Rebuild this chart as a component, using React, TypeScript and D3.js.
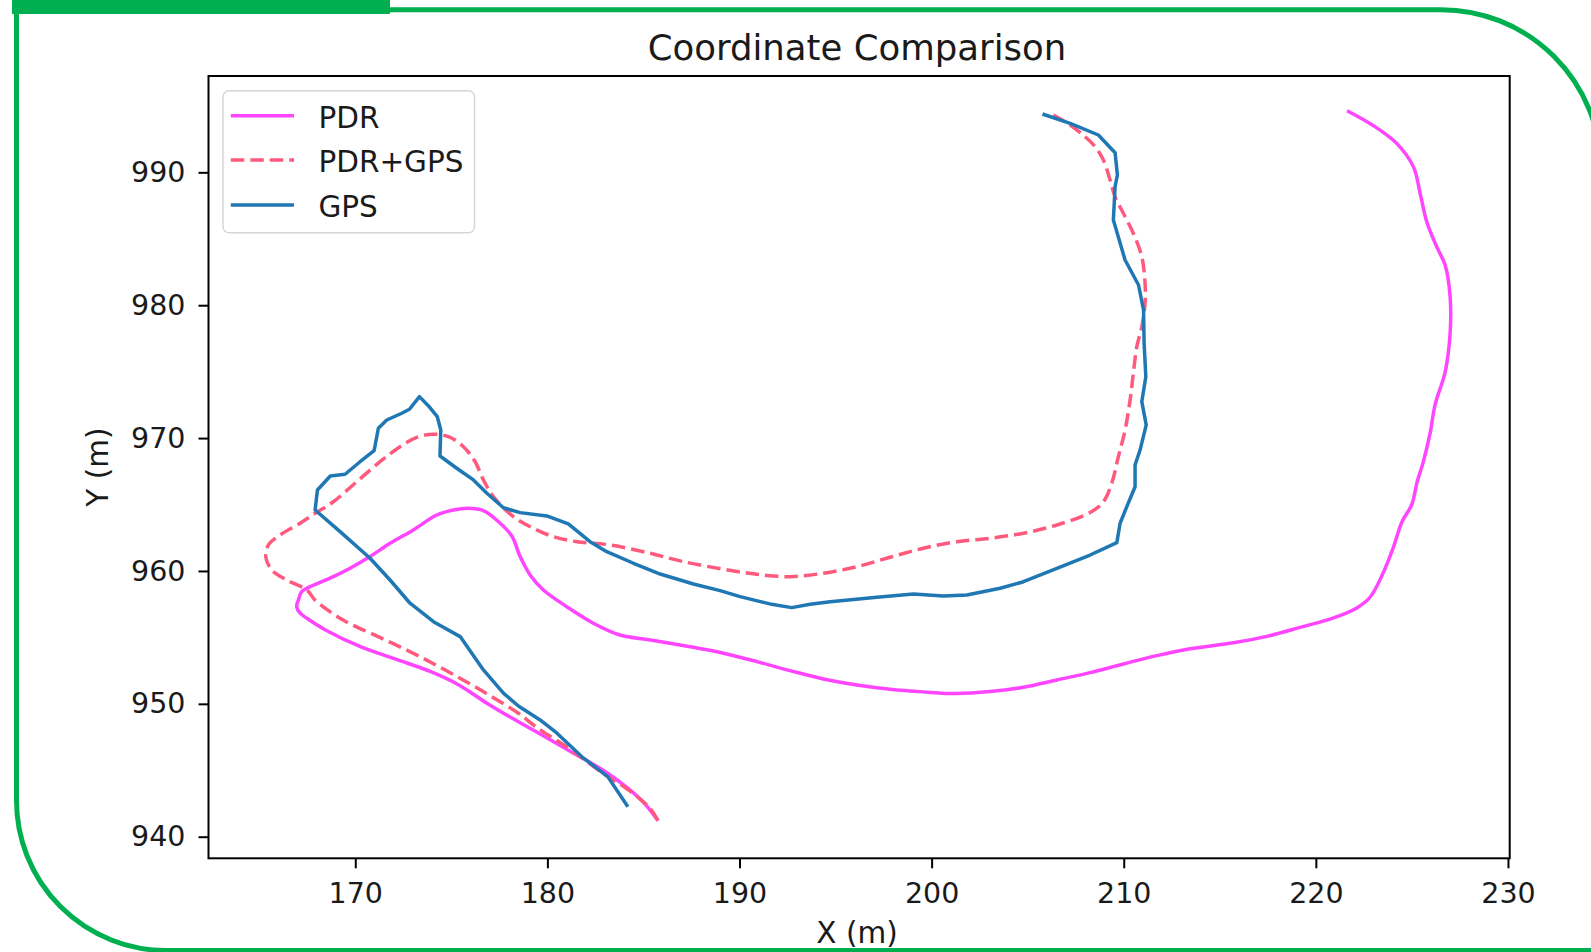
import React, { useEffect, useRef } from "react";
import * as d3 from "d3";

// ---- data ----
const seriesNames = ["PDR", "PDR+GPS", "GPS"];
const xTicks = [170, 180, 190, 200, 210, 220, 230];
const yTicks = [940, 950, 960, 970, 980, 990];

const pdrX = [185.76, 184.88, 183.06, 181.23, 179.4, 177.58, 176.85, 175.39, 173.93, 172.1, 170.27, 168.45, 167.48, 167.13, 166.95, 167.04, 167.21, 167.65, 168.86, 169.73, 170.77, 171.81, 173.02, 174.24, 175.11, 175.89, 176.67, 177.45, 178.15, 178.58, 179.1, 179.79, 181.01, 182.39, 183.78, 185.35, 187.43, 189.16, 190.9, 192.63, 194.37, 196.11, 197.84, 199.57, 201.31, 203.04, 204.78, 206.52, 208.25, 209.98, 211.72, 213.46, 215.71, 217.45, 219.18, 220.92, 222.13, 222.83, 223.44, 224.04, 224.48, 225.0, 225.26, 225.6, 225.95, 226.21, 226.73, 226.99, 226.99, 226.73, 226.3, 225.78, 225.43, 225.08, 224.22, 223.0, 221.62];
const pdrY = [941.21, 942.77, 944.85, 946.4, 947.91, 949.41, 950.04, 951.42, 952.42, 953.36, 954.3, 955.56, 956.44, 956.82, 957.31, 957.82, 958.44, 958.82, 959.57, 960.2, 961.08, 962.08, 963.09, 964.21, 964.59, 964.72, 964.54, 963.71, 962.63, 961.08, 959.7, 958.57, 957.31, 956.07, 955.18, 954.81, 954.3, 953.81, 953.18, 952.5, 951.87, 951.42, 951.1, 950.9, 950.77, 950.92, 951.25, 951.8, 952.35, 953.0, 953.63, 954.15, 954.59, 955.08, 955.75, 956.47, 957.22, 958.04, 959.65, 961.8, 963.68, 965.02, 966.63, 968.25, 970.39, 972.54, 974.97, 977.92, 980.61, 983.02, 984.37, 986.25, 988.4, 990.41, 992.16, 993.51, 994.64];

const fusedX = [185.76, 185.34, 184.88, 183.97, 183.06, 181.23, 179.4, 178.49, 176.66, 174.84, 173.01, 171.19, 169.36, 167.9, 167.48, 166.43, 165.65, 165.34, 165.48, 166.09, 167.13, 167.91, 168.86, 170.08, 171.29, 172.33, 173.2, 174.07, 174.85, 175.63, 176.24, 176.67, 177.19, 178.23, 179.27, 180.31, 181.53, 183.26, 185.35, 187.08, 189.16, 190.9, 192.63, 194.37, 196.11, 197.84, 199.57, 201.31, 203.04, 204.78, 206.52, 208.25, 208.94, 209.38, 209.72, 210.07, 210.33, 210.5, 210.68, 210.94, 211.11, 211.11, 210.94, 210.5, 209.98, 209.55, 209.29, 208.94, 208.51, 207.99, 207.21, 206.34];
const fusedY = [941.21, 942.14, 942.77, 943.77, 944.6, 946.53, 948.28, 949.29, 950.92, 952.42, 953.81, 955.06, 956.31, 957.82, 958.57, 959.32, 960.08, 961.08, 961.96, 962.71, 963.59, 964.34, 965.21, 966.72, 968.22, 969.35, 970.06, 970.29, 970.11, 969.35, 968.22, 966.85, 965.59, 964.09, 963.21, 962.58, 962.2, 961.96, 961.33, 960.7, 960.13, 959.75, 959.57, 959.83, 960.32, 961.03, 961.71, 962.2, 962.46, 962.84, 963.46, 964.4, 965.21, 966.62, 968.6, 970.61, 972.87, 974.88, 976.88, 978.38, 980.14, 981.65, 983.65, 985.41, 986.92, 988.16, 989.42, 990.93, 991.93, 992.68, 993.56, 994.31];

const gpsX = [184.19, 183.14, 181.78, 180.5, 179.62, 178.49, 177.71, 176.67, 175.46, 174.07, 172.85, 171.81, 170.77, 169.21, 167.91, 168.03, 168.7, 169.47, 170.25, 170.98, 171.2, 171.64, 172.42, 172.82, 173.34, 173.81, 174.27, 174.45, 174.41, 175.28, 176.15, 176.85, 177.71, 178.58, 179.97, 181.09, 182.22, 183.09, 184.48, 185.87, 187.6, 188.99, 190.03, 191.59, 192.72, 193.68, 194.72, 197.15, 199.05, 200.61, 201.83, 203.57, 204.78, 206.52, 208.25, 209.64, 209.81, 210.16, 210.59, 210.59, 210.85, 211.17, 210.94, 211.15, 211.06, 211.03, 210.77, 210.07, 209.46, 209.55, 209.67, 209.55, 208.68, 207.21, 205.77];
const gpsY = [942.26, 944.52, 946.03, 947.79, 948.79, 949.84, 950.8, 952.55, 955.06, 956.18, 957.57, 959.32, 960.96, 962.96, 964.59, 966.09, 967.15, 967.28, 968.22, 969.05, 970.74, 971.36, 971.87, 972.17, 973.12, 972.42, 971.61, 970.61, 968.65, 967.73, 966.85, 965.85, 964.76, 964.39, 964.14, 963.54, 962.2, 961.45, 960.58, 959.77, 959.02, 958.52, 958.07, 957.52, 957.24, 957.49, 957.69, 958.02, 958.27, 958.12, 958.19, 958.7, 959.19, 960.2, 961.2, 962.13, 963.59, 964.84, 966.34, 967.98, 969.1, 970.99, 972.74, 974.62, 977.13, 979.64, 981.52, 983.4, 986.41, 988.92, 989.8, 991.47, 992.81, 993.69, 994.39];

// ---- layout ----
const W = 1591;
const H = 952;
const PL = 208.5, PR = 1509.7, PT = 76, PB = 858.3;
const X_DOMAIN: [number, number] = [162.36, 230.09];
const Y_DOMAIN: [number, number] = [938.375, 997.25];
const FONT = "DejaVu Sans, Verdana, sans-serif";
const GREEN = "#00b050";
const COLORS = ["#ff45ff", "#ff5a7e", "#1f77b4"];
const LW = 3.5;

export default function App() {
  const ref = useRef<SVGSVGElement | null>(null);

  useEffect(() => {
    const svg = d3.select(ref.current);
    svg.selectAll("*").remove();

    svg.append("rect").attr("width", W).attr("height", H).attr("fill", "#ffffff");

    // green frame
    const r1 = 160, r2 = 150, fx = 16.5, fy = 9.7, fr = 1601, fb = 950.5;
    const framePath = d3.path();
    framePath.moveTo(fx, fy);
    framePath.lineTo(fr - r1, fy);
    framePath.arcTo(fr, fy, fr, fy + r1, r1);
    framePath.lineTo(fr, fb);
    framePath.lineTo(fx + r2, fb);
    framePath.arcTo(fx, fb, fx, fb - r2, r2);
    framePath.closePath();
    svg.append("path").attr("d", framePath.toString()).attr("fill", "none").attr("stroke", GREEN).attr("stroke-width", 5);
    svg.append("rect").attr("x", 12).attr("y", 0).attr("width", 378).attr("height", 14).attr("fill", GREEN);

    const x = d3.scaleLinear().domain(X_DOMAIN).range([PL, PR]);
    const y = d3.scaleLinear().domain(Y_DOMAIN).range([PB, PT]);

    const plot = svg.append("g");
    plot.append("defs").append("clipPath").attr("id", "clip")
      .append("rect").attr("x", PL).attr("y", PT).attr("width", PR - PL).attr("height", PB - PT);

    const series = [
      { xs: pdrX, ys: pdrY, color: COLORS[0], dash: null, curve: d3.curveCatmullRom.alpha(0.5) },
      { xs: fusedX, ys: fusedY, color: COLORS[1], dash: "13.5,6", curve: d3.curveCatmullRom.alpha(0.5) },
      { xs: gpsX, ys: gpsY, color: COLORS[2], dash: null, curve: d3.curveLinear },
    ];

    const lines = plot.append("g").attr("clip-path", "url(#clip)");
    series.forEach((s) => {
      const idx = d3.range(s.xs.length);
      const line = d3.line<number>().x((i) => x(s.xs[i])).y((i) => y(s.ys[i])).curve(s.curve);
      const p = lines.append("path").attr("d", line(idx) || "").attr("fill", "none")
        .attr("stroke", s.color).attr("stroke-width", LW).attr("stroke-linejoin", "round");
      if (s.dash) p.attr("stroke-dasharray", s.dash);
    });

    // axes
    const xAxis = d3.axisBottom(x).tickValues(xTicks).tickSize(10).tickPadding(14).tickFormat(d3.format("d"));
    const yAxis = d3.axisLeft(y).tickValues(yTicks).tickSize(10).tickPadding(13).tickFormat(d3.format("d"));
    const gx = svg.append("g").attr("transform", `translate(0,${PB})`).call(xAxis);
    const gy = svg.append("g").attr("transform", `translate(${PL},0)`).call(yAxis);
    [gx, gy].forEach((g) => {
      g.select(".domain").remove();
      g.selectAll(".tick line").attr("stroke", "#000").attr("stroke-width", 2);
      g.selectAll(".tick text").attr("fill", "#1a1a1a").style("font-family", FONT).style("font-size", "28.5px");
    });

    // spines
    svg.append("rect").attr("x", PL).attr("y", PT).attr("width", PR - PL).attr("height", PB - PT)
      .attr("fill", "none").attr("stroke", "#000").attr("stroke-width", 2);

    // title and labels
    svg.append("text").attr("x", 857).attr("y", 60).attr("text-anchor", "middle")
      .style("font-family", FONT).style("font-size", "35.5px").attr("fill", "#1a1a1a").text("Coordinate Comparison");
    svg.append("text").attr("x", 857).attr("y", 943).attr("text-anchor", "middle")
      .style("font-family", FONT).style("font-size", "29.5px").attr("fill", "#1a1a1a").text("X (m)");
    svg.append("text").attr("transform", `translate(108,${(PT + PB) / 2}) rotate(-90)`).attr("text-anchor", "middle")
      .style("font-family", FONT).style("font-size", "29.5px").attr("fill", "#1a1a1a").text("Y (m)");

    // legend
    const lg = svg.append("g");
    lg.append("rect").attr("x", 223).attr("y", 90.7).attr("width", 251.5).attr("height", 142).attr("rx", 6)
      .attr("fill", "#ffffff").attr("fill-opacity", 0.8).attr("stroke", "#d6d6d6").attr("stroke-width", 1.5);
    const rows = [115.7, 160, 205];
    seriesNames.forEach((name, i) => {
      const l = lg.append("line").attr("x1", 230.8).attr("x2", 294).attr("y1", rows[i]).attr("y2", rows[i])
        .attr("stroke", series[i].color).attr("stroke-width", LW);
      if (series[i].dash) l.attr("stroke-dasharray", series[i].dash);
      lg.append("text").attr("x", 318.4).attr("y", rows[i] + 12).style("font-family", FONT).style("font-size", "29.5px")
        .attr("fill", "#1a1a1a").text(name);
    });
  }, []);

  return (
    <svg ref={ref} width={W} height={H} style={{ position: "absolute", left: 0, top: 0, display: "block" }} />
  );
}
